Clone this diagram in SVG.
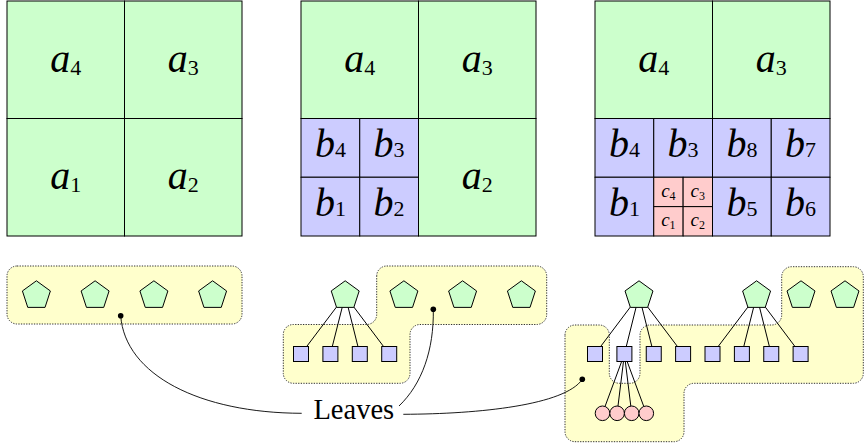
<svg xmlns="http://www.w3.org/2000/svg" xmlns:xlink="http://www.w3.org/1999/xlink" width="864" height="446" viewBox="0 0 864 446">
  <style>
    .cg { fill: #ccffcc; stroke: #000; stroke-width: 1; }
    .cb { fill: #ccccff; stroke: #000; stroke-width: 1; }
    .cr { fill: #ffcccc; stroke: #000; stroke-width: 1; }
    .m { font-style: italic; font-size: 40px; text-anchor: middle; fill: #000; }
    .m .s { font-style: normal; font-size: 22px; }
    .mc { font-style: italic; font-size: 19px; text-anchor: middle; fill: #000; }
    .mc .s { font-style: normal; font-size: 12px; }
    .region { fill: #ffffcc; stroke: #333; stroke-width: 1; stroke-dasharray: 1.3 1.3; }
    .edge { stroke: #000; stroke-width: 1; fill: none; }
    .pent { fill: #ccffcc; stroke: #000; stroke-width: 1; }
    .sq { fill: #ccccff; stroke: #000; stroke-width: 1; }
    .leaf { fill: #ffcccc; stroke: #000; stroke-width: 1; }
    .dot { fill: #000; }
    .callout { stroke: #000; stroke-width: 0.9; fill: none; }
    .lbl { font-size: 28.5px; text-anchor: middle; fill: #000; }
  </style>
  <defs>
    <polygon id="pentagon" class="pent" points="0,-14.7 13.98,-4.54 8.64,11.89 -8.64,11.89 -13.98,-4.54"/>
    <rect id="square" class="sq" x="-7.5" y="-7.5" width="15" height="15"/>
    <circle id="ball" class="leaf" r="7.3"/>
  </defs>

  <g font-family="Liberation Serif, DejaVu Serif, serif">
  <!-- Level 1 subdivision -->
  <g id="grid1">
    <rect class="cg" x="7" y="1" width="117.5" height="117.5"/>
    <rect class="cg" x="124.5" y="1" width="117.5" height="117.5"/>
    <rect class="cg" x="7" y="118.5" width="117.5" height="117.5"/>
    <rect class="cg" x="124.5" y="118.5" width="117.5" height="117.5"/>
    <text class="m" x="65.75" y="71.75">a<tspan class="s" dy="3">4</tspan></text>
    <text class="m" x="183.25" y="71.75">a<tspan class="s" dy="3">3</tspan></text>
    <text class="m" x="65.75" y="189.25">a<tspan class="s" dy="3">1</tspan></text>
    <text class="m" x="183.25" y="189.25">a<tspan class="s" dy="3">2</tspan></text>
  </g>

  <!-- Level 2 subdivision -->
  <g id="grid2">
    <rect class="cg" x="301" y="1" width="117.5" height="117.5"/>
    <rect class="cg" x="418.5" y="1" width="117.5" height="117.5"/>
    <rect class="cg" x="418.5" y="118.5" width="117.5" height="117.5"/>
    <rect class="cb" x="301" y="118.5" width="58.75" height="58.75"/>
    <rect class="cb" x="359.75" y="118.5" width="58.75" height="58.75"/>
    <rect class="cb" x="301" y="177.25" width="58.75" height="58.75"/>
    <rect class="cb" x="359.75" y="177.25" width="58.75" height="58.75"/>
    <text class="m" x="359.75" y="71.75">a<tspan class="s" dy="3">4</tspan></text>
    <text class="m" x="477.25" y="71.75">a<tspan class="s" dy="3">3</tspan></text>
    <text class="m" x="477.25" y="189.25">a<tspan class="s" dy="3">2</tspan></text>
    <text class="m" x="330.4" y="156.9">b<tspan class="s">4</tspan></text>
    <text class="m" x="389.1" y="156.9">b<tspan class="s">3</tspan></text>
    <text class="m" x="330.4" y="215.6">b<tspan class="s">1</tspan></text>
    <text class="m" x="389.1" y="215.6">b<tspan class="s">2</tspan></text>
  </g>

  <!-- Level 3 subdivision -->
  <g id="grid3">
    <rect class="cg" x="595" y="1" width="117.5" height="117.5"/>
    <rect class="cg" x="712.5" y="1" width="117.5" height="117.5"/>
    <rect class="cb" x="595" y="118.5" width="58.75" height="58.75"/>
    <rect class="cb" x="653.75" y="118.5" width="58.75" height="58.75"/>
    <rect class="cb" x="595" y="177.25" width="58.75" height="58.75"/>
    <rect class="cb" x="712.5" y="118.5" width="58.75" height="58.75"/>
    <rect class="cb" x="771.25" y="118.5" width="58.75" height="58.75"/>
    <rect class="cb" x="712.5" y="177.25" width="58.75" height="58.75"/>
    <rect class="cb" x="771.25" y="177.25" width="58.75" height="58.75"/>
    <rect class="cr" x="653.75" y="177.25" width="29.375" height="29.375"/>
    <rect class="cr" x="683.125" y="177.25" width="29.375" height="29.375"/>
    <rect class="cr" x="653.75" y="206.625" width="29.375" height="29.375"/>
    <rect class="cr" x="683.125" y="206.625" width="29.375" height="29.375"/>
    <text class="m" x="653.75" y="71.75">a<tspan class="s" dy="3">4</tspan></text>
    <text class="m" x="771.25" y="71.75">a<tspan class="s" dy="3">3</tspan></text>
    <text class="m" x="624.4" y="156.9">b<tspan class="s">4</tspan></text>
    <text class="m" x="683.1" y="156.9">b<tspan class="s">3</tspan></text>
    <text class="m" x="741.9" y="156.9">b<tspan class="s">8</tspan></text>
    <text class="m" x="800.6" y="156.9">b<tspan class="s">7</tspan></text>
    <text class="m" x="624.4" y="215.6">b<tspan class="s">1</tspan></text>
    <text class="m" x="741.9" y="215.6">b<tspan class="s">5</tspan></text>
    <text class="m" x="800.6" y="215.6">b<tspan class="s">6</tspan></text>
    <text class="mc" x="668.4" y="197">c<tspan class="s" dy="3">4</tspan></text>
    <text class="mc" x="697.8" y="197">c<tspan class="s" dy="3">3</tspan></text>
    <text class="mc" x="668.4" y="226.3">c<tspan class="s" dy="3">1</tspan></text>
    <text class="mc" x="697.8" y="226.3">c<tspan class="s" dy="3">2</tspan></text>
  </g>

  <!-- Leaf regions behind the trees -->
  <g id="regions">
    <rect class="region" x="7" y="266" width="235" height="58" rx="10" ry="10"/>
    <path class="region" d="M 376.7 276 A 10 10 0 0 1 386.7 266 L 536.7 266 A 10 10 0 0 1 546.7 276 L 546.7 314.5 A 10 10 0 0 1 536.7 324.5 L 420 324.5 A 10 10 0 0 0 410 334.5 L 410 373.3 A 10 10 0 0 1 400 383.3 L 293.3 383.3 A 10 10 0 0 1 283.3 373.3 L 283.3 334.5 A 10 10 0 0 1 293.3 324.5 L 366.7 324.5 A 10 10 0 0 0 376.7 314.5 Z"/>
    <path class="region" d="M 565 335 A 10 10 0 0 1 575 325 L 599.3 325 A 10 10 0 0 1 609.3 335 L 609.3 373.3 A 10 10 0 0 0 619.3 383.3 L 630 383.3 A 10 10 0 0 0 640 373.3 L 640 335 A 10 10 0 0 1 650 325 L 771.7 325 A 10 10 0 0 0 781.7 315 L 781.7 276.7 A 10 10 0 0 1 791.7 266.7 L 853.3 266.7 A 10 10 0 0 1 863.3 276.7 L 863.3 373.3 A 10 10 0 0 1 853.3 383.3 L 694 383.3 A 10 10 0 0 0 684 393.3 L 684 431.7 A 10 10 0 0 1 674 441.7 L 575 441.7 A 10 10 0 0 1 565 431.7 Z"/>
  </g>

  <!-- Tree edges -->
  <g id="connectors">
    <line class="edge" x1="345.2" y1="295.5" x2="301" y2="354"/>
    <line class="edge" x1="345.2" y1="295.5" x2="330.4" y2="354"/>
    <line class="edge" x1="345.2" y1="295.5" x2="359.8" y2="354"/>
    <line class="edge" x1="345.2" y1="295.5" x2="389.2" y2="354"/>
    <line class="edge" x1="639" y1="295.5" x2="595" y2="354"/>
    <line class="edge" x1="639" y1="295.5" x2="624.4" y2="354"/>
    <line class="edge" x1="639" y1="295.5" x2="653.75" y2="354"/>
    <line class="edge" x1="639" y1="295.5" x2="683.1" y2="354"/>
    <line class="edge" x1="756.6" y1="295.5" x2="712.5" y2="354"/>
    <line class="edge" x1="756.6" y1="295.5" x2="741.9" y2="354"/>
    <line class="edge" x1="756.6" y1="295.5" x2="771.25" y2="354"/>
    <line class="edge" x1="756.6" y1="295.5" x2="800.6" y2="354"/>
    <line class="edge" x1="624.4" y1="354" x2="602.5" y2="413.3"/>
    <line class="edge" x1="624.4" y1="354" x2="617.1" y2="413.3"/>
    <line class="edge" x1="624.4" y1="354" x2="631.7" y2="413.3"/>
    <line class="edge" x1="624.4" y1="354" x2="646.3" y2="413.3"/>
  </g>

  <!-- Tree 1 -->
  <g id="t1-a4"><use xlink:href="#pentagon" x="36.4" y="295.5"/></g>
  <g id="t1-a3"><use xlink:href="#pentagon" x="95.1" y="295.5"/></g>
  <g id="t1-a1"><use xlink:href="#pentagon" x="153.9" y="295.5"/></g>
  <g id="t1-a2"><use xlink:href="#pentagon" x="212.6" y="295.5"/></g>

  <!-- Tree 2 -->
  <g id="t2-a1"><use xlink:href="#pentagon" x="345.2" y="295.5"/></g>
  <g id="t2-a2"><use xlink:href="#pentagon" x="403.9" y="295.5"/></g>
  <g id="t2-a3"><use xlink:href="#pentagon" x="462.6" y="295.5"/></g>
  <g id="t2-a4"><use xlink:href="#pentagon" x="521.4" y="295.5"/></g>
  <g id="t2-b1"><use xlink:href="#square" x="301" y="354"/></g>
  <g id="t2-b2"><use xlink:href="#square" x="330.4" y="354"/></g>
  <g id="t2-b3"><use xlink:href="#square" x="359.8" y="354"/></g>
  <g id="t2-b4"><use xlink:href="#square" x="389.2" y="354"/></g>

  <!-- Tree 3 -->
  <g id="t3-a1"><use xlink:href="#pentagon" x="639" y="295.5"/></g>
  <g id="t3-a2"><use xlink:href="#pentagon" x="756.6" y="295.5"/></g>
  <g id="t3-a3"><use xlink:href="#pentagon" x="801" y="295.5"/></g>
  <g id="t3-a4"><use xlink:href="#pentagon" x="845" y="295.5"/></g>
  <g id="t3-b1"><use xlink:href="#square" x="595" y="354"/></g>
  <g id="t3-b2"><use xlink:href="#square" x="624.4" y="354"/></g>
  <g id="t3-b3"><use xlink:href="#square" x="653.75" y="354"/></g>
  <g id="t3-b4"><use xlink:href="#square" x="683.1" y="354"/></g>
  <g id="t3-b5"><use xlink:href="#square" x="712.5" y="354"/></g>
  <g id="t3-b6"><use xlink:href="#square" x="741.9" y="354"/></g>
  <g id="t3-b7"><use xlink:href="#square" x="771.25" y="354"/></g>
  <g id="t3-b8"><use xlink:href="#square" x="800.6" y="354"/></g>
  <g id="t3-c1"><use xlink:href="#ball" x="602.5" y="413.3"/></g>
  <g id="t3-c2"><use xlink:href="#ball" x="617.1" y="413.3"/></g>
  <g id="t3-c3"><use xlink:href="#ball" x="631.7" y="413.3"/></g>
  <g id="t3-c4"><use xlink:href="#ball" x="646.3" y="413.3"/></g>

  <!-- Callout -->
  <g id="leaves-label">
    <path class="callout" d="M 120.7 315.7 C 125 375, 200 413, 301.7 413.3"/>
    <path class="callout" d="M 433.3 309.3 C 434 350, 422 384, 399 406"/>
    <path class="callout" d="M 403.3 414.3 C 480 414, 565 405, 582.3 379.3"/>
    <circle class="dot" cx="120.7" cy="315.7" r="2.8"/>
    <circle class="dot" cx="433.3" cy="309.3" r="2.8"/>
    <circle class="dot" cx="582.3" cy="379.3" r="2.8"/>
    <text class="lbl" x="353.8" y="419.3">Leaves</text>
  </g>
  </g>
</svg>
